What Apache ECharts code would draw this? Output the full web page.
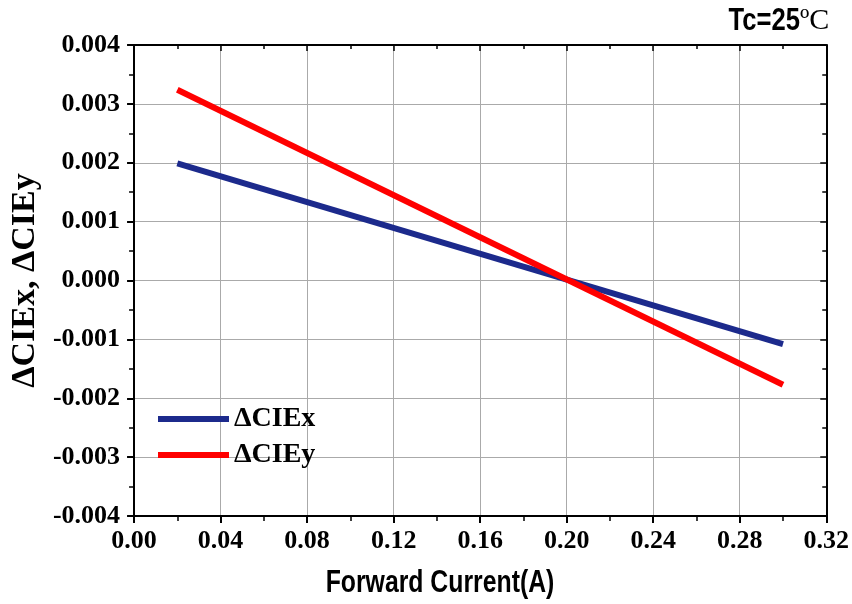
<!DOCTYPE html>
<html><head><meta charset="utf-8">
<script src="https://cdn.jsdelivr.net/npm/echarts@6/dist/echarts.min.js"></script>
<style>html,body{margin:0;padding:0;background:#fff}#c{width:852px;height:604px}</style>
</head><body><div id="c"></div>
<script>
const current = [0.02, 0.30];
const dCIEx = [0.00199, -0.00108];
const dCIEy = [0.00324, -0.00177];
const seriesNames = ['\u0394CIEx', '\u0394CIEy'];
const seriesColors = ['#1c2a8c', '#ff0000'];
const xTitle = 'Forward Current(A)';
const yTitle = '\u0394CIEx, \u0394CIEy';
const noteSans = 'Tc=25';
const noteSerif = '\u00baC';

const chart = echarts.init(document.getElementById('c'));
const serif = '"Liberation Serif", "Times New Roman", serif';
const sans = '"Liberation Sans", Arial, sans-serif';
const tickStyle = {color:'#000', fontFamily:serif, fontWeight:'bold', fontSize:26};
const splitLine = {show:true, lineStyle:{color:'#aaaaaa', width:1}};
const axisLine = {show:true, onZero:false, lineStyle:{color:'#000', width:2}};

chart.setOption({
  animation:false,
  backgroundColor:'#fff',
  grid:{left:134, right:24, top:45, bottom:88, containLabel:false},
  graphic:[
    {type:'text', x:440, y:583, scaleX:0.8,
     style:{text:xTitle, textAlign:'center', textVerticalAlign:'middle',
            font:'bold 31px ' + sans, fill:'#000'}},
    {type:'text', x:800, y:21, scaleX:0.8,
     style:{text:noteSans, textAlign:'right', textVerticalAlign:'middle',
            font:'bold 32px ' + sans, fill:'#000'}},
    {type:'text', x:800, y:21,
     style:{text:noteSerif, textAlign:'left', textVerticalAlign:'middle',
            font:'30px ' + serif, fill:'#000'}}
  ],
  legend:{
    orient:'vertical', left:153, top:399, itemGap:6,
    itemWidth:71, itemHeight:6,
    icon:'rect',
    textStyle:{fontFamily:serif, fontWeight:'bold', fontSize:28, lineHeight:30, color:'#000'},
    data:seriesNames
  },
  xAxis:[{
    type:'value', min:0, max:0.32, interval:0.04, position:'bottom',
    axisLine:axisLine,
    axisTick:{show:true, inside:false, length:7, lineStyle:{color:'#000', width:2}},
    minorTick:{show:true, splitNumber:2, length:5, lineStyle:{color:'#000', width:1.5}},
    axisLabel:Object.assign({formatter:v=>v.toFixed(2), margin:12}, tickStyle),
    splitLine:splitLine
  },{
    type:'value', min:0, max:0.32, interval:0.04, position:'top',
    axisLine:axisLine,
    axisTick:{show:true, inside:true, length:6, lineStyle:{color:'#000', width:1.5}},
    minorTick:{show:true, splitNumber:2, length:4, lineStyle:{color:'#000', width:1.5}},
    axisLabel:{show:false}, splitLine:{show:false}
  }],
  yAxis:[{
    type:'value', min:-0.004, max:0.004, interval:0.001, position:'left',
    name:yTitle, nameLocation:'middle', nameGap:88,
    nameTextStyle:{fontFamily:serif, fontWeight:'bold', fontSize:34, color:'#000'},
    axisLine:axisLine,
    axisTick:{show:true, inside:false, length:7, lineStyle:{color:'#000', width:2}},
    minorTick:{show:true, splitNumber:2, length:5, lineStyle:{color:'#000', width:1.5}},
    axisLabel:Object.assign({formatter:v=>v.toFixed(3), margin:14}, tickStyle),
    splitLine:splitLine
  },{
    type:'value', min:-0.004, max:0.004, interval:0.001, position:'right',
    axisLine:axisLine,
    axisTick:{show:true, inside:true, length:6, lineStyle:{color:'#000', width:1.5}},
    minorTick:{show:true, splitNumber:2, length:4, lineStyle:{color:'#000', width:1.5}},
    axisLabel:{show:false}, splitLine:{show:false}
  }],
  series:[
    {name:seriesNames[0], type:'line', showSymbol:false, color:seriesColors[0],
     lineStyle:{width:6, color:seriesColors[0]},
     data:current.map((x,i)=>[x,dCIEx[i]])},
    {name:seriesNames[1], type:'line', showSymbol:false, color:seriesColors[1],
     lineStyle:{width:6, color:seriesColors[1]},
     data:current.map((x,i)=>[x,dCIEy[i]])}
  ]
});
</script></body></html>
